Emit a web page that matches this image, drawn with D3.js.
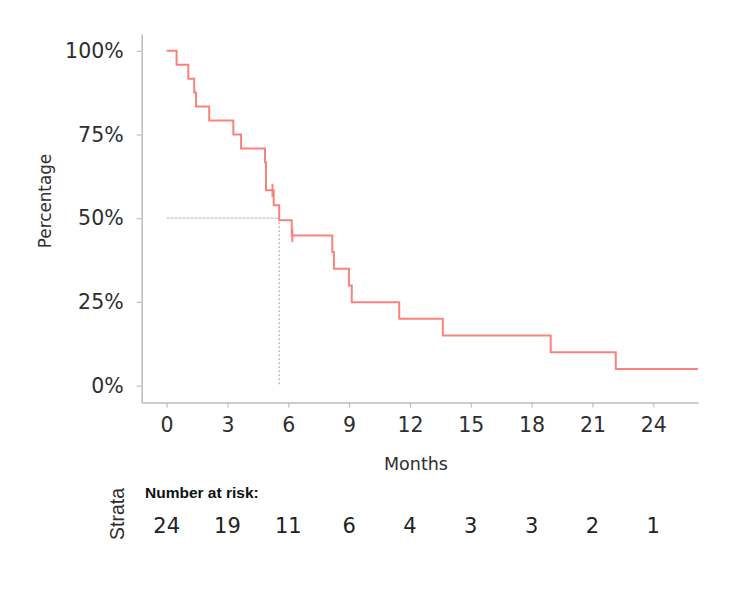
<!DOCTYPE html>
<html>
<head>
<meta charset="utf-8">
<script src="https://cdn.jsdelivr.net/npm/d3@7"></script>
<style>
  html, body { margin: 0; padding: 0; background: #fff; }
  svg { display: block; }
</style>
</head>
<body>
<svg id="chart" width="750" height="591"></svg>
<script>
// ---- data ----
const stepTimes = [0, 0.49, 1.07, 1.36, 1.45, 2.10, 3.29, 3.67, 4.85, 4.90, 5.28, 5.55, 6.17, 8.17, 8.25, 8.99, 9.13, 11.47, 13.62, 18.94, 22.15];
const stepSurv  = [100, 95.83, 91.67, 87.5, 83.33, 79.17, 75, 70.83, 66.67, 58.33, 53.85, 49.36, 44.87, 39.89, 34.9, 29.92, 24.93, 19.94, 14.96, 9.97, 4.99];
const lastTime = 26.2;
const censorTimes = [5.22, 6.20];
const censorSurv  = [58.33, 44.87];
const medianTime = 5.55;
const xTicks = [0, 3, 6, 9, 12, 15, 18, 21, 24];
const yTicks = [0, 25, 50, 75, 100];
const riskTimes = [0, 3, 6, 9, 12, 15, 18, 21, 24];
const riskCounts = [24, 19, 11, 6, 4, 3, 3, 2, 1];

// ---- layout ----
const svg = d3.select("#chart");
const x = d3.scaleLinear().domain([-1.23, 26.22]).range([141.7, 698.3]);
const y = d3.scaleLinear().domain([-5, 105]).range([402.4, 34]);
const axisColor = "#bdbdbd";
const textColor = "#2e2e2e";
const curveColor = "#f9837c";
const sans = "'DejaVu Sans', Verdana, sans-serif";

// axes
const gx = svg.append("g").attr("transform", `translate(0,${y(-5)})`)
  .call(d3.axisBottom(x).tickValues(xTicks).tickSize(5).tickPadding(10).tickSizeOuter(0));
const gy = svg.append("g").attr("transform", `translate(${x(-1.23)},0)`)
  .call(d3.axisLeft(y).tickValues(yTicks).tickSize(5).tickPadding(13).tickSizeOuter(0)
    .tickFormat(d => d + "%"));
[gx, gy].forEach(g => {
  g.select(".domain").attr("stroke", axisColor).attr("stroke-width", 1.5);
  g.selectAll(".tick line").attr("stroke", axisColor).attr("stroke-width", 1.2);
  g.selectAll(".tick text").attr("fill", textColor)
    .style("font-family", sans).style("font-size", "20.5px");
});
gx.selectAll(".tick text").attr("dy", "0.72em");

// axis titles
svg.append("text").attr("x", 416).attr("y", 470).attr("text-anchor", "middle")
  .attr("fill", textColor).style("font-family", sans).style("font-size", "17.5px")
  .text("Months");
svg.append("text").attr("transform", `translate(51,201) rotate(-90)`).attr("text-anchor", "middle")
  .attr("fill", textColor).style("font-family", sans).style("font-size", "16.8px")
  .text("Percentage");

// median lines
svg.append("line").attr("x1", x(0)).attr("x2", x(medianTime)).attr("y1", y(50)).attr("y2", y(50))
  .attr("stroke", "#c4c4c4").attr("stroke-width", 1.3).attr("stroke-dasharray", "3,1");
svg.append("line").attr("x1", x(medianTime)).attr("x2", x(medianTime)).attr("y1", y(50)).attr("y2", y(0))
  .attr("stroke", "#b0b0b0").attr("stroke-width", 1.2).attr("stroke-dasharray", "2,2");

// KM curve
const pts = stepTimes.map((t, i) => [t, stepSurv[i]]);
pts.push([lastTime, stepSurv[stepSurv.length - 1]]);
const line = d3.line().x(d => x(d[0])).y(d => y(d[1])).curve(d3.curveStepAfter);
svg.append("path").datum(pts).attr("d", line).attr("fill", "none")
  .attr("stroke", curveColor).attr("stroke-width", 2);

// censor marks
svg.selectAll(".censor").data(censorTimes).enter().append("line")
  .attr("x1", d => x(d)).attr("x2", d => x(d))
  .attr("y1", (d, i) => y(censorSurv[i]) - 6.5).attr("y2", (d, i) => y(censorSurv[i]) + 6.5)
  .attr("stroke", curveColor).attr("stroke-width", 2);

// risk table
svg.append("text").attr("transform", "translate(124,514) rotate(-90)").attr("text-anchor", "middle")
  .attr("fill", textColor).style("font-family", "'Liberation Sans', Arial, sans-serif").style("font-size", "19.5px")
  .text("Strata");
svg.append("text").attr("x", 145).attr("y", 498.3)
  .attr("fill", "#111").style("font-family", "'Liberation Sans', Arial, sans-serif")
  .style("font-size", "15.5px").style("font-weight", "bold")
  .text("Number at risk:");
svg.selectAll(".risk").data(riskCounts).enter().append("text")
  .attr("x", (d, i) => x(riskTimes[i])).attr("y", 532.7).attr("text-anchor", "middle")
  .attr("fill", "#222").style("font-family", sans).style("font-size", "21px")
  .text(d => d);
</script>
</body>
</html>
